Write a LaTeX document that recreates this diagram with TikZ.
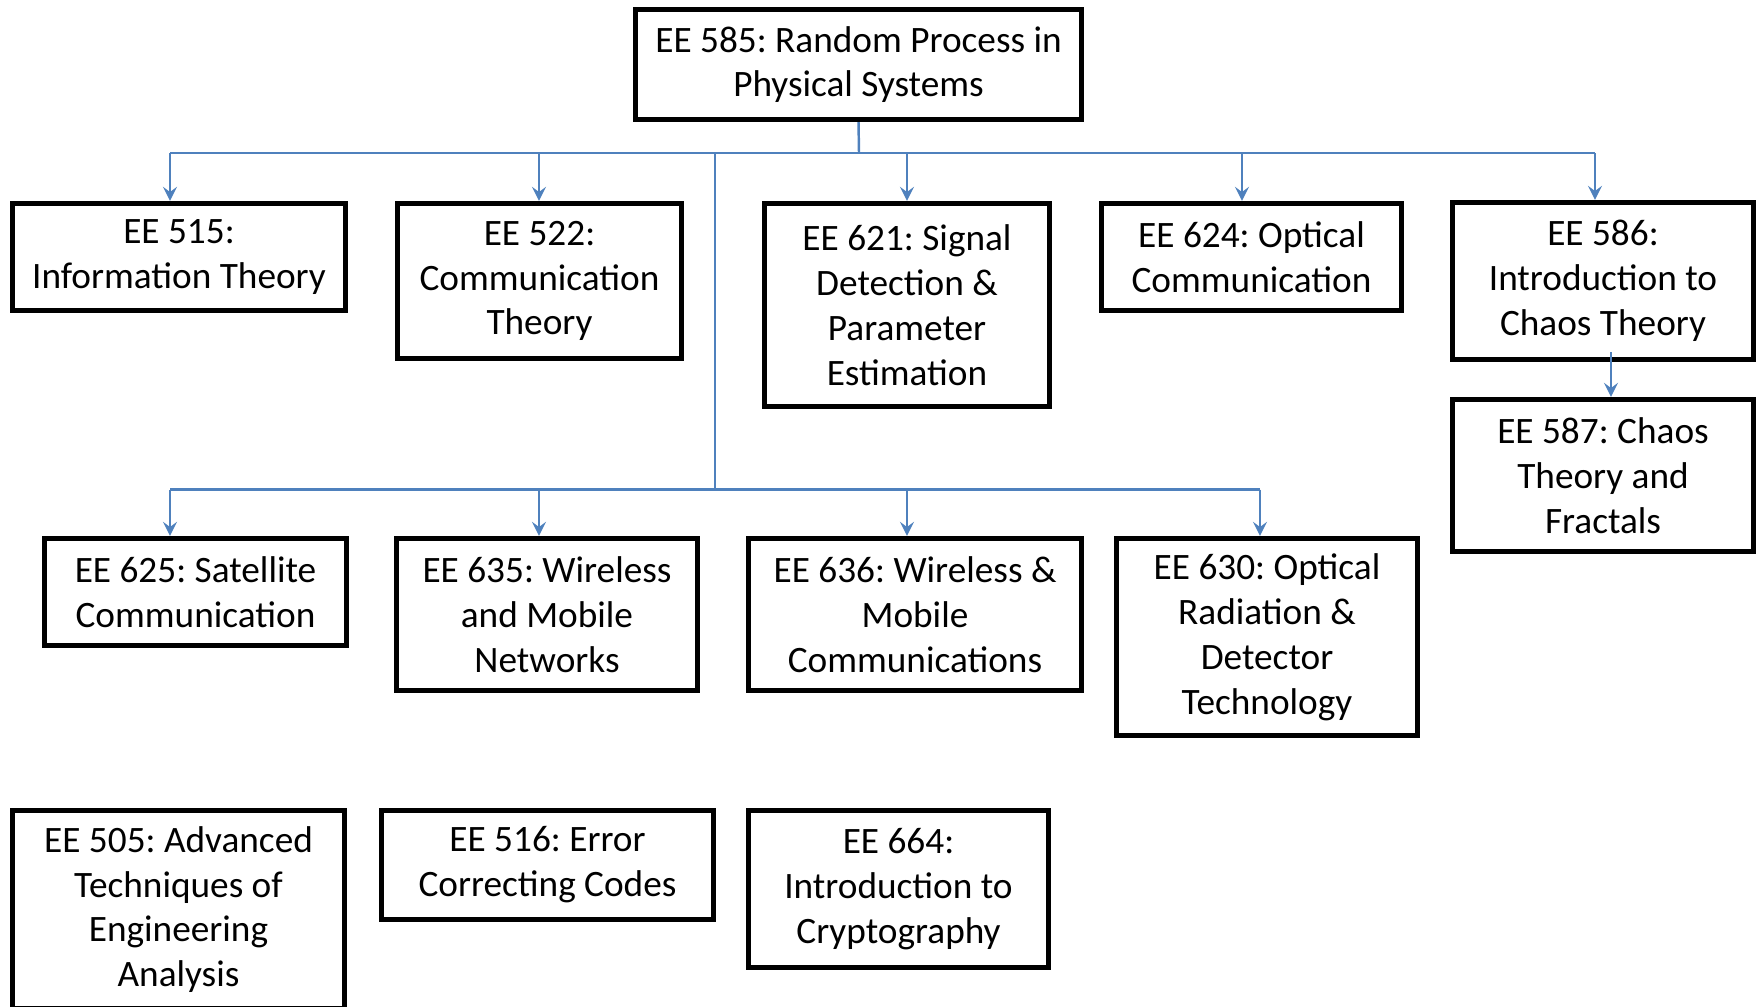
\documentclass[tikz,border=0pt]{standalone}
\usepackage{fontspec}
\setmainfont{Carlito}
\frenchspacing
\usepackage{xcolor}
\usepackage{tikz}
\usetikzlibrary{shapes,arrows,positioning}
\definecolor{officeblue}{RGB}{79,129,189}
\tikzset{course/.style={
    draw,
    line width=1.45pt,
    align=center,
    inner sep=0pt,
    font=\fontsize{10.6pt}{12.75pt}\selectfont,
}}
\tikzset{link/.style={
    line width=0.7pt,
    color=officeblue,
}}
\tikzset{arrow/.style={
    ->,>=stealth,
    line width=0.75pt,
    color=officeblue,
}}
\begin{document}
\begin{tikzpicture}[x=0.01cm,y=-0.01cm]
            \useasboundingbox (0,0) rectangle (1758,1006);
            % top course
            \node[course, minimum width=4.46cm, minimum height=1.10cm] (ee585) at (858.5,64.5) {EE 585: Random Process in\\Physical Systems};

            % first row
            \node[course, minimum width=3.33cm, minimum height=1.07cm] (ee515) at (179,257) {EE 515:\\Information Theory};
            \node[course, minimum width=2.84cm, minimum height=1.55cm] (ee522) at (539.5,281) {EE 522:\\Communication\\Theory};
            \node[course, minimum width=2.85cm, minimum height=2.03cm] (ee621) at (907,305) {EE 621: Signal\\Detection \&\\Parameter\\Estimation};
            \node[course, minimum width=3.00cm, minimum height=1.07cm] (ee624) at (1251.5,257) {EE 624: Optical\\Communication};
            \node[course, minimum width=3.01cm, minimum height=1.57cm] (ee586) at (1603,281) {EE 586:\\Introduction to\\Chaos Theory};
            \node[course, minimum width=3.01cm, minimum height=1.52cm] (ee587) at (1603,475.5) {EE 587: Chaos\\Theory and\\Fractals};

            % second row
            \node[course, minimum width=3.01cm, minimum height=1.07cm] (ee625) at (195.5,592) {EE 625: Satellite\\Communication};
            \node[course, minimum width=3.01cm, minimum height=1.52cm] (ee635) at (547,614.5) {EE 635: Wireless\\and Mobile\\Networks};
            \node[course, minimum width=3.33cm, minimum height=1.52cm] (ee636) at (915,614.5) {EE 636: Wireless \&\\Mobile\\Communications};
            \node[course, minimum width=3.01cm, minimum height=1.97cm] (ee630) at (1267,637) {EE 630: Optical\\Radiation \&\\Detector\\Technology};

            % third row
            \node[course, minimum width=3.32cm, minimum height=1.98cm] (ee505) at (178.5,909.5) {EE 505: Advanced\\Techniques of\\Engineering\\Analysis};
            \node[course, minimum width=3.32cm, minimum height=1.09cm] (ee516) at (547.5,865) {EE 516: Error\\Correcting Codes};
            \node[course, minimum width=3.00cm, minimum height=1.57cm] (ee664) at (898.5,889) {EE 664:\\Introduction to\\Cryptography};

            % bus lines
            \coordinate (bus1) at (859,153);
            \coordinate (bus2) at (715,489.5);
            \coordinate (b515) at (170,153);
            \coordinate (b522) at (539,153);
            \coordinate (b621) at (907,153);
            \coordinate (b624) at (1242,153);
            \coordinate (b586) at (1595,153);
            \coordinate (b625) at (170,489.5);
            \coordinate (b635) at (539,489.5);
            \coordinate (b636) at (907,489.5);
            \coordinate (b630) at (1260,489.5);

            \draw[link] (ee585.south) -- (bus1);
            \draw[link] (b515) -- (b586);
            \draw[link] (bus1 -| bus2) -- (bus2);
            \draw[link] (b625) -- (b630);

            \draw[arrow] (b515) -- (b515 |- ee515.north);
            \draw[arrow] (b522) -- (b522 |- ee522.north);
            \draw[arrow] (b621) -- (b621 |- ee621.north);
            \draw[arrow] (b624) -- (b624 |- ee624.north);
            \draw[arrow] (b586) -- (b586 |- ee586.north);
            \draw[arrow] (b625) -- (b625 |- ee625.north);
            \draw[arrow] (b635) -- (b635 |- ee635.north);
            \draw[arrow] (b636) -- (b636 |- ee636.north);
            \draw[arrow] (b630) -- (b630 |- ee630.north);
            \draw[arrow] ([xshift=0.08cm,yshift=0.1cm]ee586.south) -- ([xshift=0.08cm]ee587.north);

        \end{tikzpicture}
\end{document}
